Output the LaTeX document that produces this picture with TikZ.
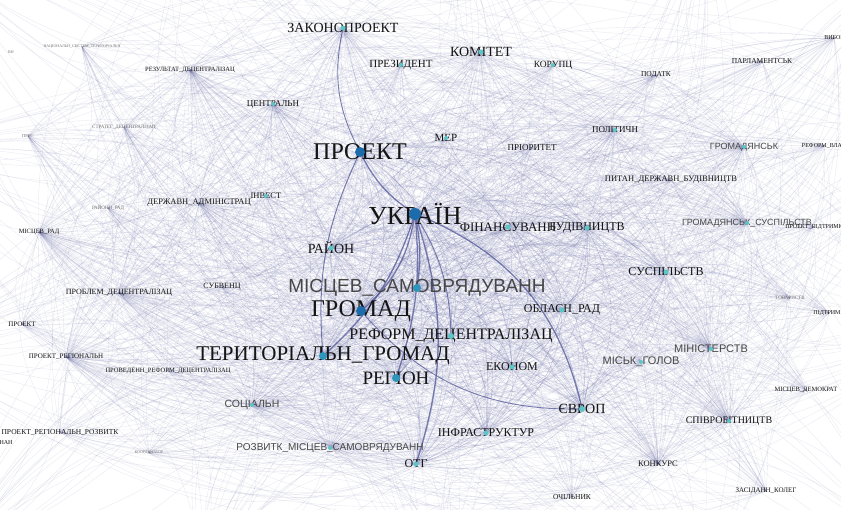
\documentclass[tikz,border=0pt]{standalone}
\usepackage{fontspec}
\setmainfont{Liberation Serif}
\newfontfamily\kwsansfont{Liberation Sans}
\pgfdeclarelayer{bg}
\pgfsetlayers{bg,main}
\definecolor{edgecol}{RGB}{112,116,172}
\definecolor{heavycol}{RGB}{80,84,150}
\definecolor{hubdot}{RGB}{28,108,172}
\definecolor{middot}{RGB}{46,150,188}
\definecolor{smalldot}{RGB}{92,198,198}
\tikzset{
  kw/.style={inner sep=0pt, text=black!92},
  kws/.style={inner sep=0pt, text=black!72, font=\kwsansfont},
  kwg/.style={inner sep=0pt, text=black!55},
  ln/.style={draw=edgecol, line width=0.35pt, opacity=0.16, bend left=30},
  hubln/.style={draw=edgecol, line width=0.5pt, opacity=0.3, bend left=30},
  heavy/.style={draw=heavycol, line width=1.3pt, opacity=0.75}
}
\def\hubs{ukr,proekt,gromad,mists,ter,region,reform,rajon,fin,budiv,oblrad,susp,evrop,ekon,infra,otg}
\def\minors{misk,minis,spivr,konk,zasid,ochil,mdemo,gsusp,gromadj,pytan,proektpid,tovar,pidtr,reformvl,polit,parl,vybor,podatk,korup,komit,prez,zakon,mer,prior,centr,rezult,nacion,strat,prus,invest,derzh,rajrad,mrad,problem,subv,proekt2,preg,proved,social,pregroz,koord,rozv}
\def\links{zakon,komit,polit,gromadj,gsusp,minis,spivr,konk,problem,derzh,centr,rezult,social,rozv,preg,mrad}
\def\offs{o1,o2,o3,o4,o5,o6,o7,o8,o9,o10,o11,o12,o13,o14}
\begin{document}
\begin{tikzpicture}[x=1pt, y=-1pt]
\useasboundingbox (0,0) rectangle (841,509);
\clip (0,0) rectangle (841,509);
% keywords
\foreach \n/\x/\y/\s/\f/\r/\c/\t in {
  ukr/415/214/26/kw/6/hubdot/УКРАЇН,
  proekt/360/152/24/kw/5/hubdot/ПРОЕКТ,
  gromad/361/311/24/kw/5/hubdot/ГРОМАД,
  mists/417/288/19/kws/4/middot/МІСЦЕВ\_САМОВРЯДУВАНН,
  ter/323/356/21/kw/4/middot/ТЕРИТОРІАЛЬН\_ГРОМАД,
  region/396/378/19/kw/4/middot/РЕГІОН,
  reform/451/336/16/kw/3/smalldot/РЕФОРМ\_ДЕЦЕНТРАЛІЗАЦ,
  rajon/331/248/14/kw/2.5/smalldot/РАЙОН,
  fin/508/227/13/kw/2.5/smalldot/ФІНАНСУВАНН,
  budiv/587/228/12/kw/2.5/smalldot/БУДІВНИЦТВ,
  oblrad/562/310/12/kw/2.5/smalldot/ОБЛАСН\_РАД,
  susp/666/272/12/kw/2.5/smalldot/СУСПІЛЬСТВ,
  evrop/582/409/14/kw/3/smalldot/ЄВРОП,
  ekon/512/367/12/kw/2.5/smalldot/ЕКОНОМ,
  infra/486/433/12/kw/2.5/smalldot/ІНФРАСТРУКТУР,
  otg/416/464/12/kw/2.5/smalldot/ОТГ,
  misk/641/362/11/kws/2/smalldot/МІСЬК\_ГОЛОВ,
  minis/711/349/11/kws/2/smalldot/МІНІСТЕРСТВ,
  spivr/729/421/10/kw/2/smalldot/СПІВРОБІТНИЦТВ,
  konk/658/464/8.5/kw/0/smalldot/КОНКУРС,
  zasid/766/491/7/kw/0/smalldot/ЗАСІДАНН\_КОЛЕГ,
  ochil/572/497/7.5/kw/0/smalldot/ОЧІЛЬНИК,
  mdemo/806/390/6.5/kw/0/smalldot/МІСЦЕВ\_ДЕМОКРАТ,
  gsusp/747/223/9/kws/2/smalldot/ГРОМАДЯНСЬК\_СУСПІЛЬСТВ,
  gromadj/744/147/9/kws/2/smalldot/ГРОМАДЯНСЬК,
  pytan/671/180/8.5/kw/0/smalldot/ПИТАН\_ДЕРЖАВН\_БУДІВНИЦТВ,
  proektpid/814/227/6/kw/0/smalldot/ПРОЕКТ\_ПІДТРИМК,
  tovar/790/298/5/kwg/0/smalldot/ТОВАРИСТВ,
  pidtr/829/313/6/kw/0/smalldot/ПІДТРИМК,
  reformvl/824/146/6/kw/0/smalldot/РЕФОРМ\_ВЛАД,
  polit/615/130/9/kw/2/smalldot/ПОЛІТИЧН,
  parl/762/61/7.5/kw/0/smalldot/ПАРЛАМЕНТСЬК,
  vybor/834/38/6/kw/0/smalldot/ВИБОР,
  podatk/656/75/7.5/kw/0/smalldot/ПОДАТК,
  korup/553/65/9.5/kw/2/smalldot/КОРУПЦ,
  komit/481/52/14/kw/2.5/smalldot/КОМІТЕТ,
  prez/401/65/11/kw/2/smalldot/ПРЕЗИДЕНТ,
  zakon/343/28/14/kw/2.5/smalldot/ЗАКОНОПРОЕКТ,
  mer/446/138/11/kw/2/smalldot/МЕР,
  prior/532/148/9/kw/0/smalldot/ПРІОРИТЕТ,
  centr/273/104/9/kw/2/smalldot/ЦЕНТРАЛЬН,
  rezult/190/70/6.5/kw/0/smalldot/РЕЗУЛЬТАТ\_ДЕЦЕНТРАЛІЗАЦ,
  nacion/82/47/4/kwg/0/smalldot/НАЦІОНАЛЬН\_СИСТЕМ\_ТЕРИТОРІАЛЬН,
  vn/11/52/4/kwg/0/smalldot/ВН,
  strat/124/127/5/kwg/0/smalldot/СТРАТЕГ\_ДЕЦЕНТРАЛІЗАЦ,
  prus/28/136/4.5/kwg/0/smalldot/ПРЕС,
  invest/266/196/8.5/kw/2/smalldot/ІНВЕСТ,
  derzh/199/203/8.5/kw/0/smalldot/ДЕРЖАВН\_АДМІНІСТРАЦ,
  rajrad/108/208/5/kwg/0/smalldot/РАЙОНН\_РАД,
  mrad/39/232/6.5/kw/0/smalldot/МІСЦЕВ\_РАД,
  problem/119/293/8/kw/0/smalldot/ПРОБЛЕМ\_ДЕЦЕНТРАЛІЗАЦ,
  subv/222/287/8/kw/0/smalldot/СУБВЕНЦ,
  proekt2/22/324/7/kw/0/smalldot/ПРОЕКТ,
  preg/66/357/7/kw/0/smalldot/ПРОЕКТ\_РЕГІОНАЛЬН,
  proved/168/371/6.5/kw/0/smalldot/ПРОВЕДЕНН\_РЕФОРМ\_ДЕЦЕНТРАЛІЗАЦ,
  social/252/405/10.5/kws/2/smalldot/СОЦІАЛЬН,
  pregroz/60/432/7.5/kw/0/smalldot/ПРОЕКТ\_РЕГІОНАЛЬН\_РОЗВИТК,
  nan/6/443/6/kw/0/smalldot/НАН,
  koord/149/453/4/kwg/0/smalldot/КООРДИНАТОР,
  rozv/330/448/10/kws/2/smalldot/РОЗВИТК\_МІСЦЕВ\_САМОВРЯДУВАНН}{
  \coordinate (\n) at (\x,\y);
  \node[\f] (\n-t) at (\n) {\fontsize{\s}{\s}\selectfont \t};
  \ifdim\r pt>0pt \fill[\c] (\n) circle[radius=\r]; \fi
}
% nodes outside the frame
\foreach \n/\x/\y in {o1/-60/-40, o2/200/-80, o3/450/-90, o4/700/-70,
  o5/900/-30, o6/920/150, o7/930/330, o8/910/560, o9/700/580,
  o10/450/590, o11/200/580, o12/-50/560, o13/-80/350, o14/-80/150}
  \coordinate (\n) at (\x,\y);
\begin{pgfonlayer}{bg}
\fill[white] (0,0) rectangle (841,509);
\foreach \a in \hubs
  \foreach \b in \minors
    \draw[ln] (\a) to (\b);
\foreach \a in \minors
  \foreach \b in \links
    \draw[ln] (\a) to (\b);
\foreach \a [count=\i] in \hubs
  \foreach \b [count=\j] in \hubs
    {\ifnum\j>\i \draw[hubln] (\a) to (\b); \fi}
\foreach \o in \offs
  \foreach \b in \hubs
    \draw[ln] (\o) to (\b);
\foreach \o in \offs
  \foreach \b in \links
    \draw[ln] (\b) to (\o);
% strongest links
\draw[heavy, bend left=20] (ukr) to (gromad);
\draw[heavy, bend left=10] (ukr) to (mists);
\draw[heavy, bend left=12] (ukr) to (region);
\draw[heavy, bend left=15] (ukr) to (ter);
\draw[heavy, bend left=28] (ukr) to (evrop);
\draw[heavy, bend left=18] (ukr) to (otg);
\draw[heavy, bend left=15] (ukr) to (proekt);
\draw[heavy, bend right=15, line width=1pt] (proekt) to (ter);
\draw[heavy, bend right=20, line width=0.9pt] (zakon) to (proekt);
\draw[heavy, bend right=25, line width=0.9pt] (gromad) to (evrop);
\draw[heavy, bend left=15, line width=0.9pt] (ukr) to (reform);
\end{pgfonlayer}
\end{tikzpicture}
\end{document}
